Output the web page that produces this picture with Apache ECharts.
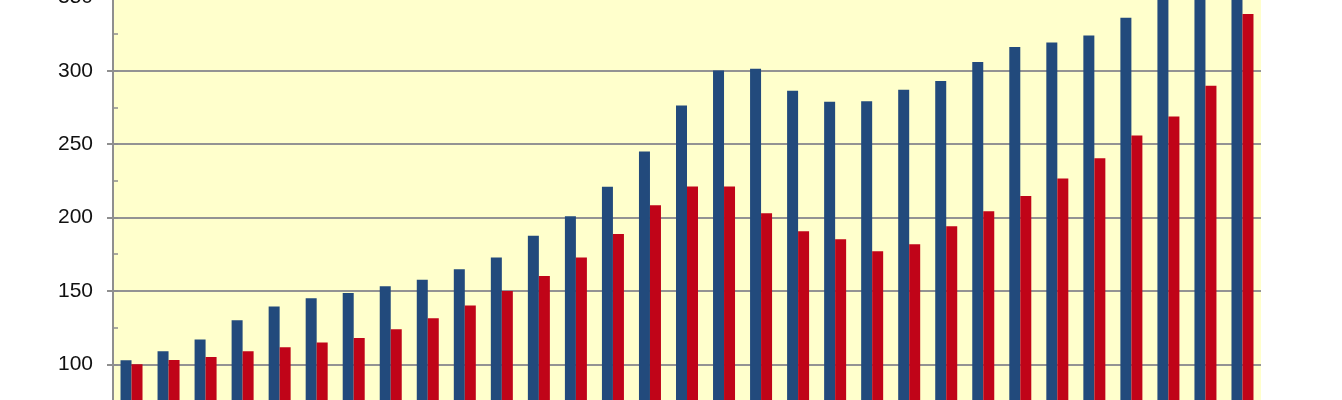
<!DOCTYPE html>
<html>
<head>
<meta charset="utf-8">
<script src="https://cdn.jsdelivr.net/npm/echarts@6/dist/echarts.min.js"></script>
<style>
  html, body { margin: 0; padding: 0; width: 1342px; height: 400px; overflow: hidden; background: #fff; }
  #chart { position: absolute; left: 0; top: -100px; width: 1342px; height: 700px; }
</style>
</head>
<body>
<div id="chart"></div>
<script>
// categories (axis labels sit below the visible crop)
var categories = ['1', '2', '3', '4', '5', '6', '7', '8', '9', '10', '11', '12', '13', '14', '15', '16',
                  '17', '18', '19', '20', '21', '22', '23', '24', '25', '26', '27', '28', '29', '30', '31'];
var blueValues = [102.7, 108.9, 116.8, 130, 139.3, 145, 148.6, 153.2, 157.5, 164.8, 172.7, 187.5, 200.9, 220.9, 245, 276.4,
                  300.2, 301.3, 286.3, 278.8, 279.3, 287, 293.1, 305.9, 316.1, 319.3, 324, 336.1, 355, 365, 385];
var redValues = [100, 102.9, 105, 108.9, 111.6, 114.8, 117.9, 123.9, 131.4, 140, 150, 160.2, 172.7, 188.8, 208.4, 221.1,
                 221.1, 202.9, 190.7, 185.2, 177, 181.8, 194.1, 204.3, 214.7, 226.6, 240.4, 255.8, 268.8, 289.8, 338.6];
var yTicks = [0, 50, 100, 150, 200, 250, 300, 350, 400];

var chart = echarts.init(document.getElementById('chart'));
chart.setOption({
    animation: false,
    grid: {left: 113, right: 81, top: 24, bottom: 89, show: true, backgroundColor: '#FFFFCC', borderWidth: 0},
    xAxis: {
        type: 'category',
        data: categories,
        axisLine: {show: false},
        axisTick: {show: false},
        axisLabel: {show: false}
    },
    yAxis: [{
        type: 'value',
        min: yTicks[0],
        max: yTicks[yTicks.length - 1],
        interval: 50,
        axisLine: {show: true, lineStyle: {color: '#8f8f8f', width: 2}},
        axisTick: {show: true, length: 6, lineStyle: {color: '#8f8f8f', width: 2}},
        splitLine: {lineStyle: {color: '#939393', width: 2}},
        axisLabel: {fontSize: 21, fontFamily: 'Liberation Sans', color: '#111', margin: 20}
    }, {
        // short inner ticks every 25
        type: 'value',
        position: 'left',
        min: yTicks[0],
        max: yTicks[yTicks.length - 1],
        interval: 25,
        axisLine: {show: false},
        axisTick: {show: true, inside: true, length: 5, lineStyle: {color: '#8f8f8f', width: 1.5}},
        splitLine: {show: false},
        axisLabel: {show: false}
    }],
    series: [{
        name: 'blue',
        type: 'bar',
        data: blueValues,
        barWidth: 11,
        barGap: '0%',
        itemStyle: {color: '#224A7C'}
    }, {
        name: 'red',
        type: 'bar',
        data: redValues,
        barWidth: 11,
        barGap: '0%',
        itemStyle: {color: '#C00418'}
    }]
});
</script>
</body>
</html>
